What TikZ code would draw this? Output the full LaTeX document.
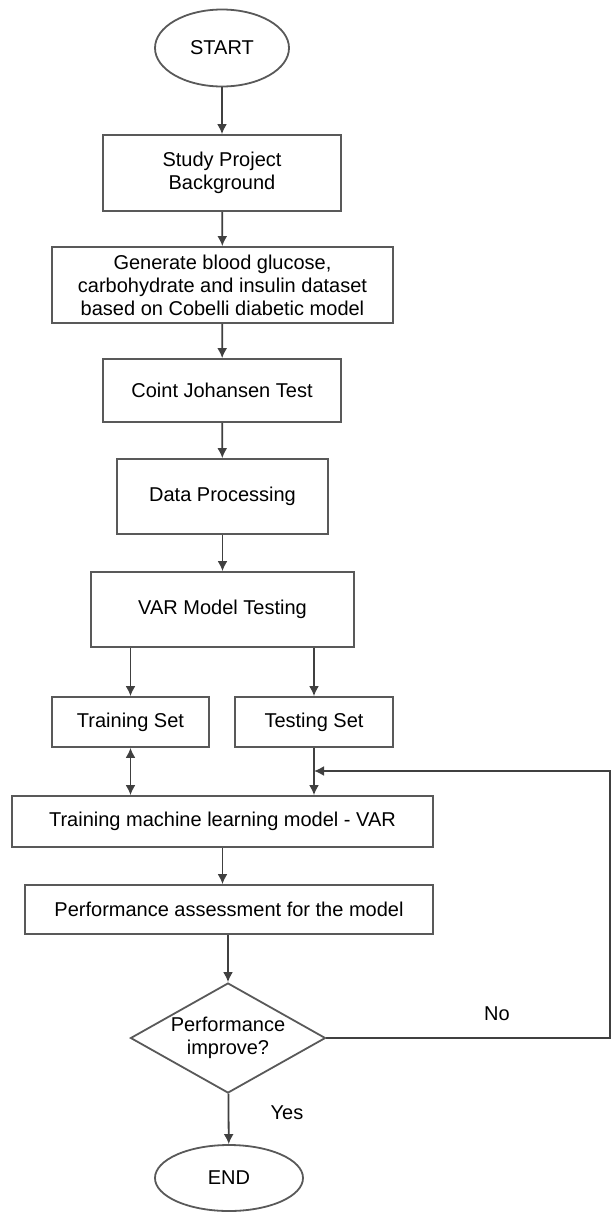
\documentclass[tikz,border=0pt]{standalone}
\usepackage{fontspec}
\setmainfont{Liberation Sans}
\usetikzlibrary{shapes.geometric, arrows.meta}

\begin{document}
\begin{tikzpicture}[x=1pt, y=-1pt, line width=1.8pt,
    font=\fontsize{20}{23}\selectfont,
    >={Latex[length=10pt, width=10pt]},
    box/.style={draw=black!65, rectangle, inner sep=0pt, align=center},
    term/.style={draw=black!65, ellipse, inner sep=0pt},
    flow/.style={draw=black!75, ->}]
    % fix the page size
    \useasboundingbox (0, 0) rectangle (613, 1213);

    % draw terminals and process boxes
    \node[term, minimum width=134, minimum height=77] (start) at (222, 48) {START};
    \node[box, minimum width=238, minimum height=76] (study) at (222, 173) {Study Project\\Background};
    \node[box, minimum width=341, minimum height=76] (gen) at (222.5, 285)
      {Generate blood glucose,\\carbohydrate and insulin dataset\\based on Cobelli diabetic model};
    \node[box, minimum width=238, minimum height=63] (coint) at (222, 390.5) {Coint Johansen Test};
    \node[box, minimum width=211, minimum height=75] (data) at (222.5, 496.5) {Data Processing};
    \node[box, minimum width=263, minimum height=75] (var) at (222.5, 609.5) {VAR Model Testing};
    \node[box, minimum width=157, minimum height=50] (trainset) at (130.5, 722) {Training Set};
    \node[box, minimum width=158, minimum height=50] (testset) at (314, 722) {Testing Set};
    \node[box, minimum width=421, minimum height=51] (trainml) at (222.5, 821.5) {Training machine learning model - VAR};
    \node[box, minimum width=408, minimum height=49] (perf) at (229, 909.5) {Performance assessment for the model};
    \node[draw=black!65, diamond, aspect=1.8, inner sep=0pt, minimum width=195, minimum height=110,
      align=center] (dec) at (228, 1038) {Performance\\improve?};
    \node[term, minimum width=148, minimum height=66] (end) at (229, 1178) {END};

    % draw branch labels
    \node (nolabel) at (497, 1014) {No};
    \node (yeslabel) at (287, 1113) {Yes};

    % draw main flow
    \draw[flow] (start) -- (study);
    \draw[flow] (study) -- (gen);
    \draw[flow] (gen) -- (coint);
    \draw[flow] (coint) -- (data);
    \draw[flow] (data) -- (var);
    \draw[flow] (var.south -| trainset) -- (trainset);
    \draw[flow] (var.south -| testset) -- (testset);
    \draw[flow, <->] (trainset) -- (trainset |- trainml.north);
    \draw[flow] (testset) -- (testset |- trainml.north);
    \draw[flow] (trainml) -- (trainml.south |- perf.north);
    \draw[flow] (perf.south -| dec) -- (dec);
    \draw[flow] (dec) -- (end);

    % draw feedback loop
    \coordinate (join) at (314, 771);
    \coordinate (turn) at (610, 771);
    \draw[flow] (dec.east) -| (turn) -- (join);
\end{tikzpicture}
\end{document}
